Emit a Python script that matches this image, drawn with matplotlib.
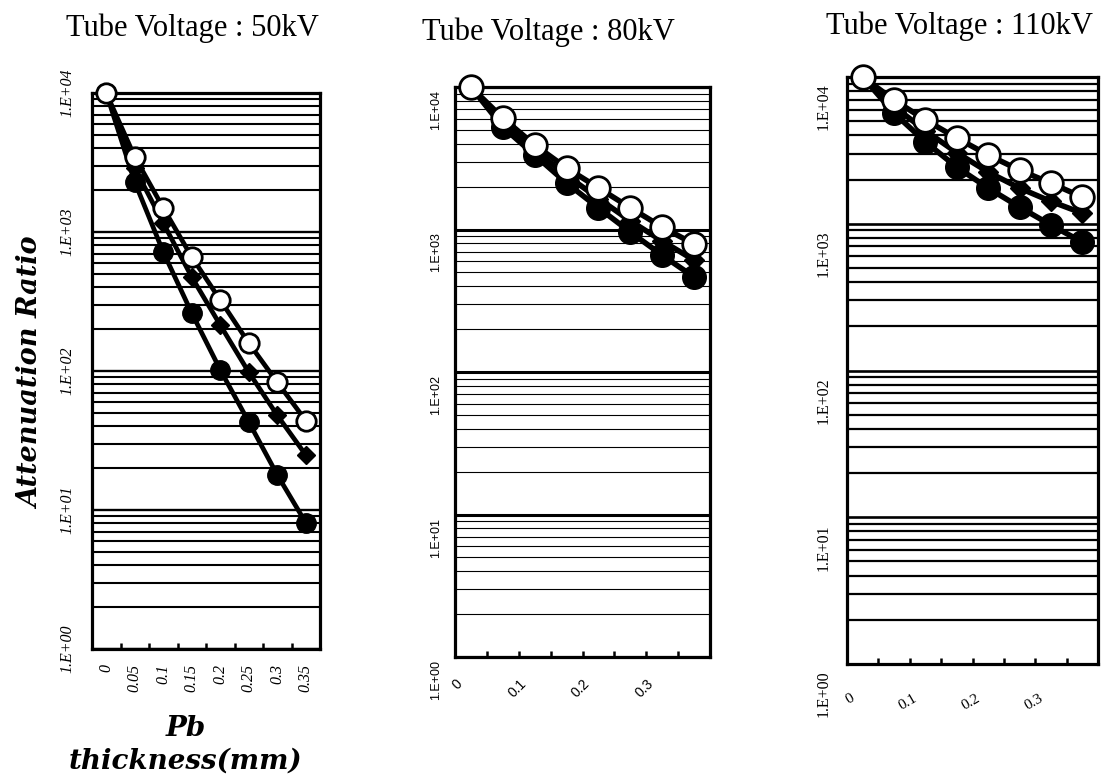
import numpy as np
import matplotlib
matplotlib.use("Agg")
import matplotlib.pyplot as plt
from matplotlib.transforms import ScaledTranslation
from matplotlib.ticker import NullFormatter

# Pb thickness categories (mm)
thickness = ["0", "0.05", "0.1", "0.15", "0.2", "0.25", "0.3", "0.35"]
sparse_labels = ["0", "", "0.1", "", "0.2", "", "0.3", ""]

# attenuation ratios
kv50_black = [10000, 2290, 718, 261, 102, 43, 17.9, 8.1]
kv50_diamond = [10000, 2880, 1160, 474, 214, 98, 48, 24.9]
kv50_open = [10000, 3470, 1490, 661, 324, 159, 83, 44]

kv80_black = [10000, 5240, 3330, 2120, 1420, 960, 660, 464]
kv80_diamond = [10000, 5600, 3600, 2400, 1650, 1150, 830, 610]
kv80_open = [10000, 6050, 3920, 2700, 1960, 1420, 1040, 790]

kv110_black = [10000, 5680, 3610, 2430, 1750, 1300, 980, 750]
kv110_diamond = [10000, 6300, 4300, 3050, 2250, 1750, 1420, 1180]
kv110_open = [10000, 6970, 5090, 3840, 2940, 2320, 1890, 1520]

decades = [1, 10, 100, 1000, 10000]
decade_labels = ["1.E+00", "1.E+01", "1.E+02", "1.E+03", "1.E+04"]

W, H = 1101, 784
fig = plt.figure(figsize=(W / 100, H / 100), dpi=100)


def box(l, t, r, b):
    return [l / W, 1 - b / H, (r - l) / W, (b - t) / H]


def shift(labels, dx, dy):
    for lab in labels:
        lab.set_transform(lab.get_transform() +
                          ScaledTranslation(dx / 100, -dy / 100, fig.dpi_scale_trans))


def panel(rect, series, ms, dms, lw, grid_major, grid_minor):
    ax = fig.add_axes(rect)
    x = np.arange(len(thickness))
    black, diamond, opn = series
    ax.plot(x, black, color="black", lw=lw, marker="o", ms=ms, mfc="black",
            mec="black", clip_on=False, zorder=3)
    ax.plot(x, diamond, color="black", lw=lw, marker="D", ms=dms, mfc="black",
            mec="black", clip_on=False, zorder=4)
    ax.plot(x, opn, color="black", lw=lw, marker="o", ms=ms, mfc="white",
            mec="black", mew=2, clip_on=False, zorder=5)
    ax.set_yscale("log")
    ax.set_ylim(1, 10000)
    ax.set_xlim(-0.5, 7.5)
    ax.set_axisbelow(True)
    ax.grid(True, which="major", axis="y", color="black", lw=grid_major)
    ax.grid(True, which="minor", axis="y", color="black", lw=grid_minor)
    ax.yaxis.set_minor_formatter(NullFormatter())
    ax.tick_params(axis="y", which="both", length=0)
    ax.set_xticks(x + 0.5, minor=True)
    ax.tick_params(axis="x", which="minor", direction="in", length=4, width=1.8)
    ax.tick_params(axis="x", which="major", length=0)
    for s in ax.spines.values():
        s.set_linewidth(2.3)
    return ax, x


# 50 kV
ax1, x = panel(box(92, 93, 320, 649), (kv50_black, kv50_diamond, kv50_open),
               14, 9, 3.4, 1.7, 1.5)
ax1.set_yticks(decades, decade_labels, rotation=90, va="center",
               family="Liberation Serif", style="italic", fontsize=11.5)
ax1.set_xticks(x, thickness, rotation=90, family="Liberation Serif",
               style="italic", fontsize=11.5)
ax1.tick_params(axis="y", pad=12)
ax1.tick_params(axis="x", pad=11)
ax1.set_ylabel("Attenuation Ratio", family="DejaVu Serif", weight="bold",
               style="italic", fontsize=19.5, va="center")
ax1.yaxis.set_label_coords(-0.265, 0.496)
ax1.set_xlabel("Pb\nthickness(mm)", family="DejaVu Serif", weight="bold",
               style="italic", fontsize=20, va="top", linespacing=1.3)
ax1.xaxis.set_label_coords(0.41, -0.118)

# 80 kV
ax2, x = panel(box(455, 87, 710, 657), (kv80_black, kv80_diamond, kv80_open),
               17, 10.5, 4, 2.2, 0.8)
ax2.set_yticks(decades, decade_labels, rotation=90, va="center",
               family="Liberation Sans", fontsize=9)
ax2.set_xticks(x, sparse_labels, rotation=45, ha="right",
               family="Liberation Sans", fontsize=10)
ax2.tick_params(axis="y", pad=9)
ax2.tick_params(axis="x", pad=14)
shift(ax2.get_yticklabels(), 0, 23)
shift(ax2.get_xticklabels(), -6, 0)

# 110 kV
ax3, x = panel(box(847, 77, 1098, 664), (kv110_black, kv110_diamond, kv110_open),
               17, 10.5, 4, 1.9, 1.6)
ax3.set_yticks(decades, decade_labels, rotation=90, va="center",
               family="Liberation Serif", fontsize=11.5)
ax3.set_xticks(x, sparse_labels, rotation=30, ha="right",
               family="Liberation Serif", fontsize=11)
ax3.tick_params(axis="y", pad=11)
ax3.tick_params(axis="x", pad=20)
shift(ax3.get_yticklabels(), 0, 30)
shift(ax3.get_xticklabels(), -6, 0)

title_kw = dict(family="Liberation Serif", fontsize=22, ha="center", va="baseline")
fig.text(192 / W, 1 - 36 / H, "Tube Voltage : 50kV", **title_kw)
fig.text(548 / W, 1 - 40 / H, "Tube Voltage : 80kV", **title_kw)
fig.text(960 / W, 1 - 34 / H, "Tube Voltage : 110kV", **title_kw)

fig.savefig("out.png", dpi=100)
